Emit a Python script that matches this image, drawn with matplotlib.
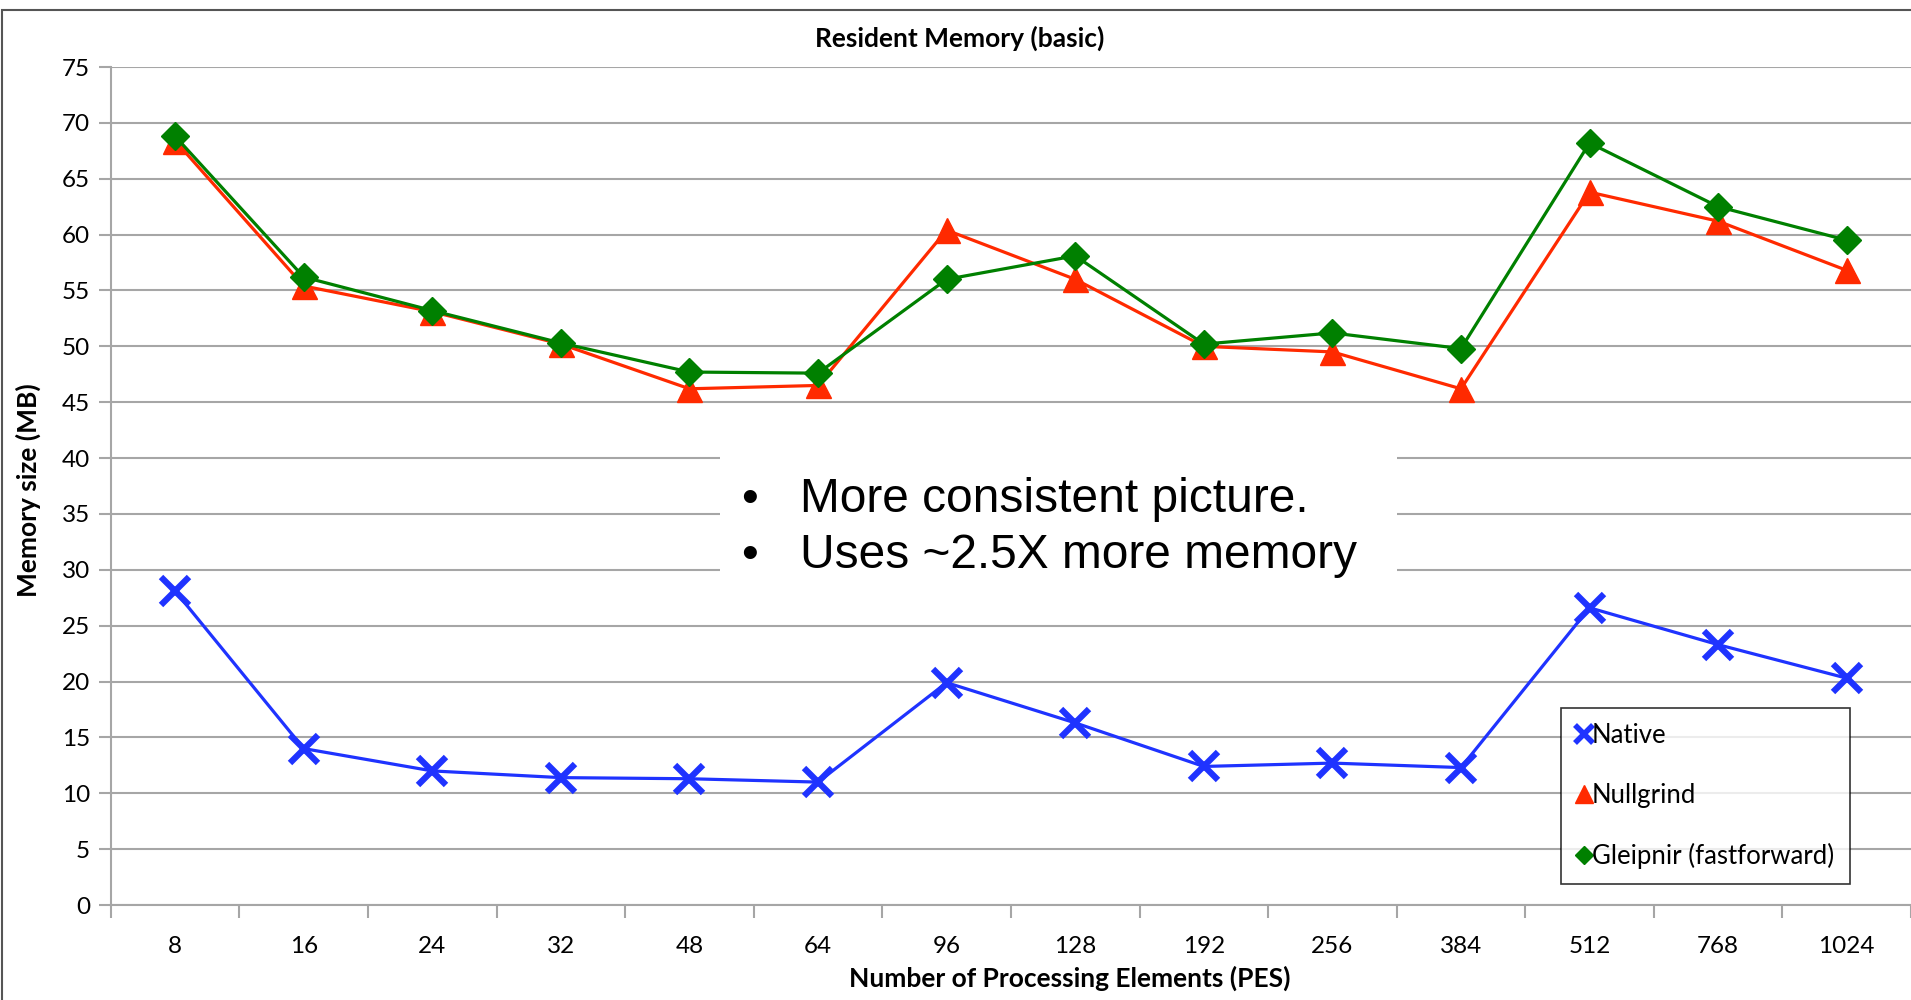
import numpy as np
import matplotlib
matplotlib.use("Agg")
import matplotlib.pyplot as plt
from matplotlib.lines import Line2D
from matplotlib.patches import Rectangle

pes = ['8', '16', '24', '32', '48', '64', '96', '128', '192', '256', '384', '512', '768', '1024']
native = [28.1, 14.0, 12.0, 11.4, 11.3, 11.0, 19.9, 16.3, 12.4, 12.7, 12.3, 26.6, 23.3, 20.3]
nullgrind = [68.4, 55.4, 53.1, 50.2, 46.2, 46.5, 60.4, 56.0, 50.0, 49.5, 46.2, 63.8, 61.2, 56.8]
gleipnir = [68.8, 56.2, 53.2, 50.3, 47.7, 47.6, 56.0, 58.1, 50.2, 51.2, 49.8, 68.2, 62.5, 59.5]
series_names = ['Native', 'Nullgrind', 'Gleipnir (fastforward)']
notes = ['More consistent picture.', 'Uses ~2.5X more memory']

plt.rcParams['font.family'] = ['Lato', 'DejaVu Sans']

blue = '#1f33ff'
red = '#ff2a00'
green = '#008000'
grid_c = '#a6a6a6'

fig = plt.figure(figsize=(19.11, 10), dpi=100)
ax = fig.add_axes([0.058, 0.095, 0.942, 0.838])

x = np.arange(len(pes))
ax.plot(x, native, color=blue, lw=2.3, marker='x', ms=20, mew=4.5, zorder=3)
ax.plot(x, nullgrind, color=red, lw=2.3, marker='^', ms=18, mec=red, zorder=4)
ax.plot(x, gleipnir, color=green, lw=2.3, marker='D', ms=14, mec=green, zorder=5)

ax.set_xlim(-0.5, len(pes) - 0.5)
ax.set_ylim(0, 75)
ax.set_yticks(np.arange(0, 76, 5))
ax.yaxis.grid(True, color=grid_c, lw=1.5)
ax.set_axisbelow(True)

ax.set_xticks(x)
ax.set_xticklabels(pes)
ax.set_xticks(np.arange(-0.5, len(pes), 1.0), minor=True)
ax.tick_params(axis='x', which='major', length=0, pad=22, labelsize=17.5)
ax.tick_params(axis='x', which='minor', length=9, width=1.5, color=grid_c)
ax.tick_params(axis='y', length=9, width=1.5, color=grid_c, labelsize=17.5, pad=6)

for s in ['top', 'right']:
    ax.spines[s].set_visible(False)
for s in ['left', 'bottom']:
    ax.spines[s].set_color(grid_c)
    ax.spines[s].set_linewidth(1.5)

fig.text(0.502, 0.962, 'Resident Memory (basic)', ha='center', va='center',
         fontsize=19, fontweight='bold')
fig.text(0.015, 0.51, 'Memory size (MB)', ha='center', va='center', rotation=90,
         fontsize=19, fontweight='bold')
fig.text(0.56, 0.022, 'Number of Processing Elements (PES)', ha='center', va='center',
         fontsize=19, fontweight='bold')

# outer chart border
fig.patches.append(Rectangle((0.001, -0.1), 1.2, 1.09, transform=fig.transFigure,
                             fill=False, ec='#555555', lw=1.5, zorder=0))

# note box over the gap between the two groups
fig.patches.append(Rectangle((0.377, 0.405), 0.354, 0.154, transform=fig.transFigure,
                             fc='white', ec='none', zorder=6))
for i, note in enumerate(notes):
    y = 0.5005 - i * 0.056
    fig.text(0.388, y, '\u2022', fontsize=34.5, family='Liberation Sans', va='center', zorder=7)
    fig.text(0.4185, y, note, fontsize=34.5, family='Liberation Sans', va='center', zorder=7)

handles = [
    Line2D([], [], ls='none', marker='x', ms=13, mew=4, color=blue),
    Line2D([], [], ls='none', marker='^', ms=13, color=red),
    Line2D([], [], ls='none', marker='D', ms=9.5, color=green),
]
leg = fig.legend(handles, series_names, loc='upper left', bbox_to_anchor=(0.817, 0.292),
                 fontsize=18.5, frameon=True, fancybox=False, edgecolor='black',
                 handlelength=0.55, handletextpad=0.05, labelspacing=1.35,
                 borderpad=0.6, borderaxespad=0)
leg.get_frame().set_linewidth(1.2)

fig.savefig('out.png', dpi=100)
